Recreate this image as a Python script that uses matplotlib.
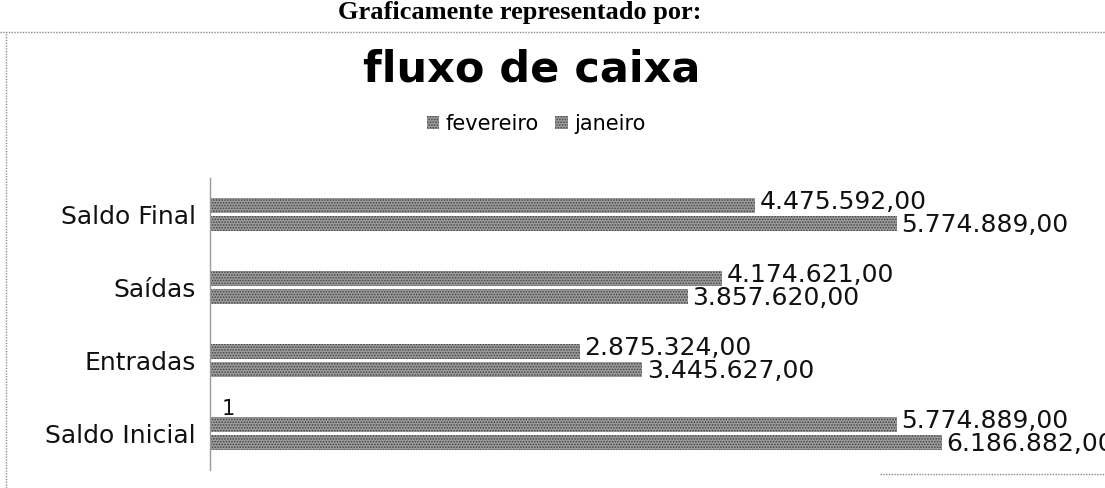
import numpy as np
import matplotlib
matplotlib.use('Agg')
import matplotlib.pyplot as plt
from matplotlib.lines import Line2D
from matplotlib.patches import Patch

# categories, bottom to top as drawn
categories = ['Saldo Inicial', 'Entradas', 'Saídas', 'Saldo Final']
fevereiro = [5774889, 2875324, 4174621, 4475592]
janeiro = [6186882, 3445627, 3857620, 5774889]
series_names = ['fevereiro', 'janeiro']


def fmt(v):
    # brazilian style: 4.475.592,00
    return f'{v:,.2f}'.replace(',', 'X').replace('.', ',').replace('X', '.')


W, H = 1105, 488
fig = plt.figure(figsize=(W / 100, H / 100), dpi=100)
plt.rcParams['hatch.linewidth'] = 0.8

bar_face = '#9c9c9c'
bar_hatch = '#444444'

# axis minimum where the vertical axis crosses (bars grow from there)
x_min, x_max = -0.51e6, 7.63e6

# axes: x from 210 px to 1100 px, y from 178 px to 470 px
ax = fig.add_axes([210 / W, 1 - 470 / H, 890 / W, 292 / H])
y = np.arange(len(categories))
h = 0.205
off = 0.12
ax.barh(y + off, np.array(fevereiro) - x_min, left=x_min, height=h, color=bar_face,
        hatch='......', edgecolor=bar_hatch, linewidth=0, label=series_names[0])
ax.barh(y - off, np.array(janeiro) - x_min, left=x_min, height=h, color=bar_face,
        hatch='......', edgecolor=bar_hatch, linewidth=0, label=series_names[1])

ax.set_xlim(x_min, x_max)
ax.set_ylim(-0.5, len(categories) - 0.5)

for vals, dy in ((fevereiro, off + 0.05), (janeiro, -off - 0.02)):
    for yi, v in zip(y, vals):
        ax.text(v + 0.04e6, yi + dy, fmt(v), va='center', ha='left',
                fontsize=18, color='#111111', family='DejaVu Sans')

# stray label above the first bar
ax.text(-0.4e6, 0.33, '1', va='center', ha='left',
        fontsize=15, color='#111111', family='DejaVu Sans')

ax.set_yticks(y)
ax.set_yticklabels(categories, fontsize=18, family='DejaVu Sans', color='#111111')
ax.tick_params(axis='y', length=0, pad=10)
ax.set_xticks([])
for s in ['top', 'right', 'bottom']:
    ax.spines[s].set_visible(False)
ax.spines['left'].set_color('#9a9a9a')
ax.spines['left'].set_linewidth(1.0)
ax.spines['left'].set_linestyle((0, (1, 1)))

# page heading above the chart
fig.text(520 / W, 1 - 12 / H, 'Graficamente representado por:', ha='center', va='center',
         fontsize=19, fontweight='bold', family='Liberation Serif')

# chart title
fig.text(532 / W, 1 - 70 / H, 'fluxo de caixa', ha='center', va='center',
         fontsize=31, fontweight='bold', family='DejaVu Sans')

# legend
handles = [Patch(facecolor=bar_face, hatch='......', edgecolor=bar_hatch, linewidth=0)
           for _ in series_names]
fig.legend(handles, series_names, loc='center', bbox_to_anchor=(536 / W, 1 - 124 / H),
           ncol=2, frameon=False, handlelength=0.6, handleheight=0.6,
           handletextpad=0.3, columnspacing=0.8, prop={'family': 'DejaVu Sans', 'size': 15})

# chart border (dotted like the scan)
border = dict(color='#8a8a8a', lw=1.0, ls=(0, (1, 1)), transform=fig.transFigure)
fig.add_artist(Line2D([0, 1], [1 - 32 / H, 1 - 32 / H], **border))
fig.add_artist(Line2D([6 / W, 6 / W], [0, 1 - 32 / H], **border))
fig.add_artist(Line2D([880 / W, 1], [1 - 474 / H, 1 - 474 / H], **border))

fig.savefig('out.png', dpi=100, facecolor='white')
